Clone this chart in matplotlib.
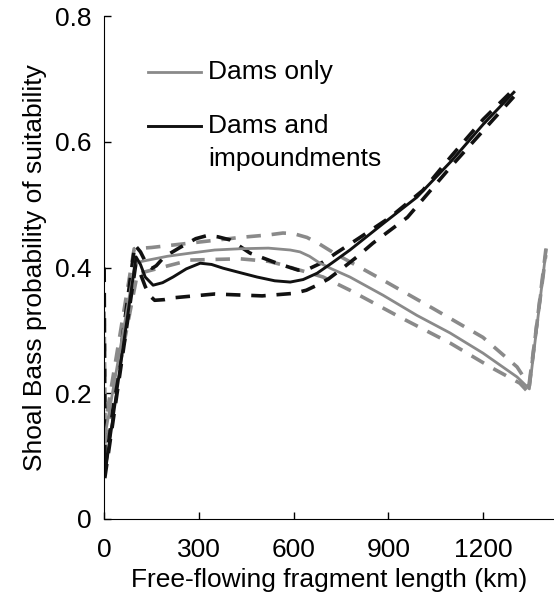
import matplotlib
matplotlib.use("Agg")
import matplotlib.pyplot as plt

plt.rcParams['font.family'] = ['Liberation Sans', 'DejaVu Sans']

# Dams only (grey)
dams_x = [2, 98, 120, 140, 200, 272, 350, 430, 520, 589, 620, 650, 680, 720, 778, 883, 990, 1095, 1199, 1307, 1346, 1399]
dams_y = [0.13, 0.407, 0.410, 0.412, 0.418, 0.423, 0.428, 0.430, 0.431, 0.428, 0.425, 0.418, 0.408, 0.398, 0.385, 0.356, 0.324, 0.296, 0.264, 0.226, 0.207, 0.428]

dams_hi_x = [0, 3, 95, 150, 272, 430, 520, 566, 600, 642, 680, 725, 800, 883, 1041, 1199, 1307, 1346, 1399]
dams_hi_y = [0.33, 0.15, 0.430, 0.432, 0.439, 0.448, 0.452, 0.455, 0.454, 0.448, 0.438, 0.424, 0.403, 0.380, 0.335, 0.289, 0.242, 0.212, 0.432]

dams_lo_x = [2, 105, 150, 272, 430, 520, 560, 598, 640, 693, 778, 937, 1095, 1222, 1316, 1342, 1398]
dams_lo_y = [0.12, 0.39, 0.396, 0.412, 0.414, 0.41, 0.405, 0.399, 0.393, 0.385, 0.364, 0.321, 0.280, 0.242, 0.216, 0.202, 0.42]

# Dams and impoundments (black)
imp_x = [2, 101, 115, 130, 155, 185, 218, 260, 304, 340, 377, 430, 484, 540, 589, 630, 674, 720, 778, 883, 990, 1100, 1200, 1297]
imp_y = [0.07, 0.417, 0.405, 0.385, 0.372, 0.376, 0.385, 0.398, 0.407, 0.405, 0.399, 0.392, 0.385, 0.379, 0.377, 0.381, 0.391, 0.407, 0.428, 0.470, 0.512, 0.570, 0.628, 0.679]

imp_hi_x = [0, 3, 97, 115, 135, 152, 165, 190, 240, 290, 326, 360, 399, 462, 547, 614, 652, 690, 737, 810, 905, 1009, 1100, 1200, 1297]
imp_hi_y = [0.40, 0.08, 0.436, 0.425, 0.405, 0.399, 0.403, 0.417, 0.432, 0.446, 0.451, 0.449, 0.444, 0.423, 0.407, 0.396, 0.399, 0.408, 0.424, 0.448, 0.480, 0.523, 0.578, 0.636, 0.684]

imp_lo_x = [2, 100, 115, 130, 145, 160, 190, 220, 350, 500, 600, 640, 674, 710, 747, 800, 851, 960, 1100, 1200, 1297]
imp_lo_y = [0.065, 0.405, 0.390, 0.370, 0.355, 0.348, 0.349, 0.352, 0.358, 0.355, 0.359, 0.364, 0.372, 0.382, 0.396, 0.417, 0.439, 0.480, 0.562, 0.618, 0.672]

grey = '#8a8a8a'
black = '#111111'

fig = plt.figure(figsize=(5.54, 6.0), dpi=100)
ax = fig.add_axes([0.188, 0.135, 0.812, 0.838])

dash = (4, 3)
ax.plot(dams_hi_x, dams_hi_y, color=grey, lw=2.6, dashes=dash)
ax.plot(dams_lo_x, dams_lo_y, color=grey, lw=2.6, dashes=dash)
ax.plot(imp_hi_x, imp_hi_y, color=black, lw=2.6, dashes=dash)
ax.plot(imp_lo_x, imp_lo_y, color=black, lw=2.6, dashes=dash)
ax.plot(dams_x, dams_y, color=grey, lw=2.0)
ax.plot(imp_x, imp_y, color=black, lw=2.1)

ax.set_xlim(0, 1424)
ax.set_ylim(0, 0.8)
ax.set_xticks([0, 300, 600, 900, 1200])
ax.set_yticks([0, 0.2, 0.4, 0.6, 0.8])
ax.set_yticklabels(['0', '0.2', '0.4', '0.6', '0.8'])
ax.tick_params(direction='in', length=5, width=1, labelsize=19)
ax.tick_params(axis='x', pad=14)
ax.tick_params(axis='y', pad=9)
ax.spines['top'].set_visible(False)
ax.spines['right'].set_visible(False)

ax.set_xlabel('Free-flowing fragment length (km)', fontsize=19, labelpad=4)
ax.set_ylabel('Shoal Bass probability of suitability', fontsize=19, labelpad=6)

# legend
ax.plot([0.098, 0.216], [0.889, 0.889], color=grey, lw=2.0, transform=ax.transAxes)
ax.plot([0.098, 0.216], [0.782, 0.782], color=black, lw=2.1, transform=ax.transAxes)
ax.text(0.231, 0.889, 'Dams only', fontsize=19, va='center', transform=ax.transAxes)
ax.text(0.231, 0.782, 'Dams and', fontsize=19, va='center', transform=ax.transAxes)
ax.text(0.231, 0.716, 'impoundments', fontsize=19, va='center', transform=ax.transAxes)

fig.savefig('out.png', dpi=100)
